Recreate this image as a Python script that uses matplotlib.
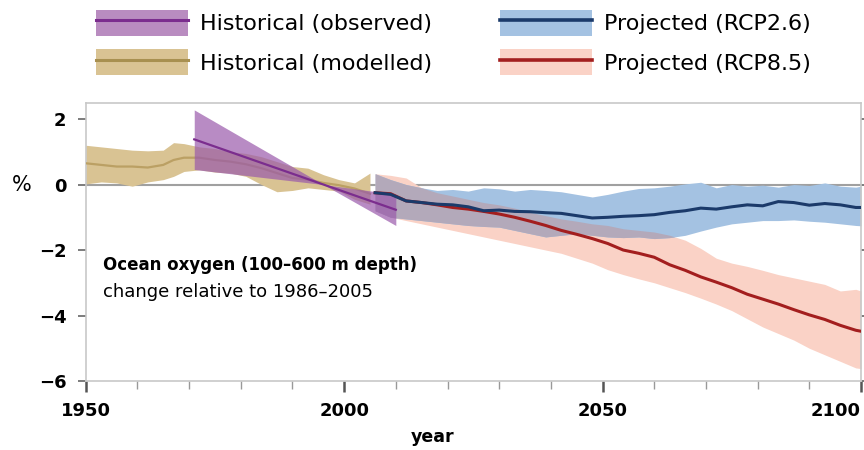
import numpy as np
import matplotlib
matplotlib.use("Agg")
import matplotlib.pyplot as plt
from matplotlib.patches import Patch
from matplotlib.lines import Line2D
from matplotlib.ticker import MultipleLocator

# historical (modelled)
mod_years = [1950, 1953, 1956, 1959, 1962, 1965, 1967, 1969, 1972, 1975, 1978,
             1981, 1984, 1987, 1990, 1993, 1996, 1999, 2002, 2005]
mod_mean = [0.65, 0.60, 0.55, 0.55, 0.52, 0.60, 0.75, 0.82, 0.82, 0.75, 0.70,
            0.62, 0.50, 0.35, 0.20, 0.15, 0.05, -0.02, -0.12, -0.28]
mod_hi = [1.20, 1.15, 1.10, 1.05, 1.03, 1.05, 1.28, 1.25, 1.15, 1.10, 1.00,
          0.95, 0.85, 0.70, 0.55, 0.50, 0.30, 0.15, 0.05, 0.35]
mod_lo = [0.02, 0.08, 0.05, -0.05, 0.08, 0.15, 0.25, 0.40, 0.45, 0.38, 0.35,
          0.25, 0.00, -0.22, -0.18, -0.10, -0.15, -0.20, -0.45, -0.60]

# historical (observed) linear trend with its uncertainty wedge
obs_years = [1971, 1996, 2010]
obs_mean = [1.38, 0.0, -0.77]
obs_hi = [2.28, 0.0, -0.30]
obs_lo = [0.46, 0.0, -1.25]

# projections
proj_years = [2006, 2009, 2012, 2015, 2018, 2021, 2024, 2027, 2030, 2033, 2036,
              2039, 2042, 2045, 2048, 2051, 2054, 2057, 2060, 2063, 2066, 2069,
              2072, 2075, 2078, 2081, 2084, 2087, 2090, 2093, 2096, 2099, 2100]
rcp26_mean = [-0.25, -0.30, -0.50, -0.55, -0.60, -0.62, -0.68, -0.80, -0.78, -0.82, -0.83,
              -0.86, -0.88, -0.95, -1.02, -1.00, -0.97, -0.95, -0.92, -0.85, -0.80, -0.72,
              -0.75, -0.68, -0.62, -0.65, -0.52, -0.55, -0.63, -0.58, -0.62, -0.70, -0.70]
rcp26_hi = [0.33, 0.15, 0.00, -0.10, -0.18, -0.15, -0.20, -0.10, -0.13, -0.20, -0.15,
            -0.18, -0.22, -0.30, -0.38, -0.30, -0.20, -0.12, -0.10, -0.05, 0.02, 0.07,
            -0.10, 0.00, -0.05, -0.02, -0.08, 0.00, -0.03, 0.05, -0.05, -0.08, -0.05]
rcp26_lo = [-0.80, -1.00, -1.05, -1.10, -1.15, -1.20, -1.25, -1.28, -1.30, -1.40, -1.50,
            -1.60, -1.55, -1.50, -1.55, -1.60, -1.62, -1.60, -1.65, -1.62, -1.55, -1.42,
            -1.30, -1.20, -1.15, -1.10, -1.10, -1.08, -1.12, -1.15, -1.20, -1.25, -1.26]
rcp85_mean = [-0.25, -0.28, -0.50, -0.55, -0.62, -0.70, -0.75, -0.82, -0.90, -1.00, -1.12,
              -1.25, -1.40, -1.52, -1.65, -1.80, -2.00, -2.10, -2.22, -2.45, -2.62, -2.82,
              -2.98, -3.15, -3.35, -3.50, -3.65, -3.82, -3.98, -4.12, -4.30, -4.45, -4.48]
rcp85_hi = [0.33, 0.28, 0.20, -0.10, -0.25, -0.35, -0.45, -0.55, -0.62, -0.72, -0.85,
            -0.95, -1.05, -1.12, -1.20, -1.25, -1.35, -1.40, -1.45, -1.55, -1.70, -1.95,
            -2.25, -2.40, -2.50, -2.62, -2.75, -2.85, -2.95, -3.05, -3.25, -3.20, -3.25]
rcp85_lo = [-0.80, -1.00, -1.10, -1.20, -1.30, -1.40, -1.50, -1.60, -1.70, -1.80, -1.90,
            -2.00, -2.10, -2.25, -2.40, -2.60, -2.75, -2.88, -3.00, -3.15, -3.30, -3.47,
            -3.65, -3.85, -4.10, -4.35, -4.55, -4.75, -5.00, -5.20, -5.40, -5.60, -5.62]

labels = ["Historical (observed)", "Historical (modelled)",
          "Projected (RCP2.6)", "Projected (RCP8.5)"]

# colours
obs_band, obs_line = "#9a5aab", "#7b2d8e"
mod_band, mod_line = "#d9c393", "#bba064"
b26_band, b26_line = "#a4c2e2", "#1b3a6a"
b85_band, b85_line = "#fad2c6", "#a31e1e"
both_band = "#b3a9ba"

fig = plt.figure(figsize=(8.64, 4.5), dpi=100)
ax = fig.add_axes([0.0992, 0.1533, 0.8973, 0.6185])

ax.axhline(0, color="#a0a0a0", lw=1.5, zorder=1)

# modelled history
ax.fill_between(mod_years, mod_lo, mod_hi, color=mod_band, lw=0, zorder=2)
ax.plot(mod_years, mod_mean, color=mod_line, lw=1.6, zorder=3)

# projection bands and where they overlap
p_lo = np.maximum(rcp26_lo, rcp85_lo)
p_hi = np.minimum(rcp26_hi, rcp85_hi)
ax.fill_between(proj_years, rcp85_lo, rcp85_hi, color=b85_band, lw=0, zorder=2)
ax.fill_between(proj_years, rcp26_lo, rcp26_hi, color=b26_band, lw=0, zorder=2)
ax.fill_between(proj_years, p_lo, p_hi, where=p_hi > p_lo, interpolate=True,
                color=both_band, lw=0, zorder=2)

# observed trend
ax.fill_between(obs_years, obs_lo, obs_hi, color=obs_band, alpha=0.7, lw=0, zorder=4)
ax.plot(obs_years, obs_mean, color=obs_line, lw=1.6, zorder=5)

ax.plot(proj_years, rcp85_mean, color=b85_line, lw=2.2, zorder=6)
ax.plot(proj_years, rcp26_mean, color=b26_line, lw=2.2, zorder=7)

ax.set_xlim(1950, 2100)
ax.set_ylim(-6, 2.5)
ax.set_xticks([1950, 2000, 2050, 2100])
ax.xaxis.set_minor_locator(MultipleLocator(10))
ax.set_yticks([-6, -4, -2, 0, 2])
ax.set_yticklabels(["\u22126", "\u22124", "\u22122", "0", "2"])

for s in ax.spines.values():
    s.set_color("#c8c8c8")
    s.set_linewidth(1.2)

ax.tick_params(axis="x", which="major", direction="out", length=8, width=1.8,
               color="#555555", pad=7, labelsize=13)
ax.tick_params(axis="x", which="minor", direction="out", length=6, width=1,
               color="#999999")
ax.tick_params(axis="y", which="major", direction="out", length=6, width=1.2,
               color="#666666", pad=8, labelsize=13, right=True)
for t in ax.get_xticklabels() + ax.get_yticklabels():
    t.set_fontweight("bold")
ax.get_xticklabels()[-1].set_horizontalalignment("right")

ax.set_xlabel("year", fontsize=12.5, fontweight="bold")
ax.xaxis.set_label_coords(0.448, -0.17)
ax.text(-0.083, 0, "%", transform=ax.get_yaxis_transform(), fontsize=15,
        ha="center", va="center")

ax.text(0.022, 0.417, "Ocean oxygen (100\u2013600 m depth)", transform=ax.transAxes,
        fontsize=12, fontweight="bold", va="center")
ax.text(0.022, 0.32, "change relative to 1986\u20132005", transform=ax.transAxes,
        fontsize=13, va="center")

# legend, two columns placed separately
h_obs = (Patch(facecolor="#b98cc0", edgecolor="none"), Line2D([], [], color=obs_line, lw=2.2))
h_mod = (Patch(facecolor=mod_band, edgecolor="none"), Line2D([], [], color="#a89050", lw=2.2))
h_26 = (Patch(facecolor=b26_band, edgecolor="none"), Line2D([], [], color=b26_line, lw=2.6))
h_85 = (Patch(facecolor=b85_band, edgecolor="none"), Line2D([], [], color=b85_line, lw=2.6))

leg_kw = dict(loc="upper left", frameon=False, fontsize=16, borderpad=0,
              handlelength=4.14, handleheight=1.4, labelspacing=0.62,
              handletextpad=0.54, borderaxespad=0)
fig.legend([h_obs, h_mod], labels[:2], bbox_to_anchor=(96 / 864, 1 - 10 / 450), **leg_kw)
fig.legend([h_26, h_85], labels[2:], bbox_to_anchor=(500 / 864, 1 - 10 / 450), **leg_kw)

fig.savefig("out.png", dpi=100)
